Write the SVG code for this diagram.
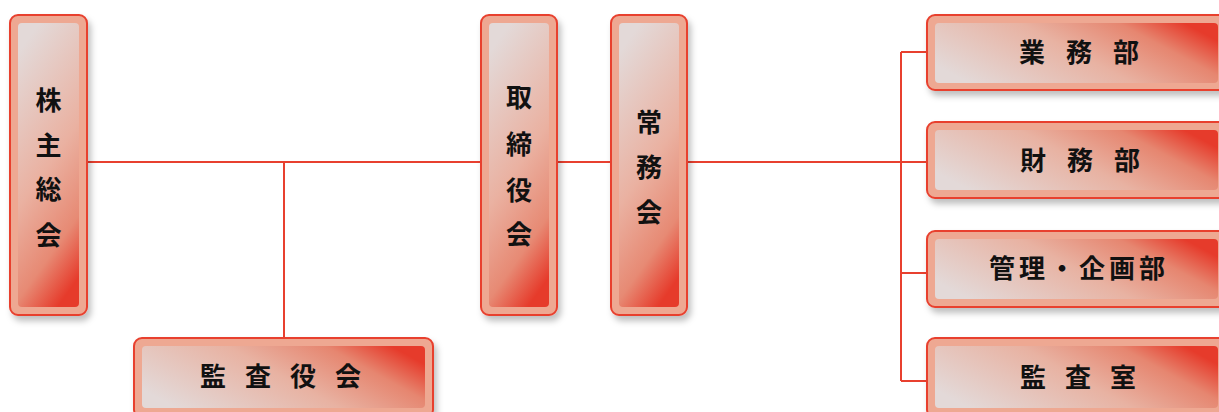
<svg xmlns="http://www.w3.org/2000/svg" width="1219" height="412" viewBox="0 0 1219 412">
<defs>
<linearGradient id="gv" x1="0.35" y1="0" x2="0.65" y2="1">
<stop offset="0" stop-color="#e3d9d8"/>
<stop offset="0.5" stop-color="#eab1a1"/>
<stop offset="0.8" stop-color="#e78a74"/>
<stop offset="1" stop-color="#e63b2b"/>
</linearGradient>
<linearGradient id="gh" x1="0" y1="0.7" x2="1" y2="0.3">
<stop offset="0" stop-color="#e3d9d8"/>
<stop offset="0.5" stop-color="#e8b2a2"/>
<stop offset="0.8" stop-color="#e68670"/>
<stop offset="1" stop-color="#e63b2b"/>
</linearGradient>
<filter id="sh" x="-20%" y="-20%" width="140%" height="140%">
<feDropShadow dx="3" dy="5" stdDeviation="3" flood-color="#000" flood-opacity="0.25"/>
</filter>
</defs>
<style>
.o{fill:#eea892;stroke:#e8402f;stroke-width:2;filter:url(#sh)}
.iv{fill:url(#gv)}
.ih{fill:url(#gh)}
.t{font-family:"Noto Sans CJK JP","Noto Sans CJK SC",sans-serif;font-size:26px;font-weight:700;fill:#111}
.vt{text-anchor:middle}
.c{stroke:#e8402f;stroke-width:2;fill:none}
</style>
<rect width="1219" height="412" fill="#fff"/>
<g id="connectors">
<path class="c" d="M87 162H481M557 162H611M687 162H927M284 162V338M901 52V381M901 52H927M901 273H927M901 381H927"/>
</g>
<g id="kabunushi">
<rect class="o" x="10" y="15" width="77" height="300" rx="8"/>
<rect class="iv" x="18" y="23" width="61" height="284" rx="4"/>
<text class="t vt"><tspan x="48.5" y="110">株</tspan><tspan x="48.5" y="155">主</tspan><tspan x="48.5" y="199">総</tspan><tspan x="48.5" y="245">会</tspan></text>
</g>
<g id="torishimariyaku">
<rect class="o" x="481" y="15" width="76" height="300" rx="8"/>
<rect class="iv" x="489" y="23" width="60" height="284" rx="4"/>
<text class="t vt"><tspan x="519" y="107">取</tspan><tspan x="519" y="154">締</tspan><tspan x="519" y="200">役</tspan><tspan x="519" y="244">会</tspan></text>
</g>
<g id="jomu">
<rect class="o" x="611" y="15" width="76" height="300" rx="8"/>
<rect class="iv" x="619" y="23" width="60" height="284" rx="4"/>
<text class="t vt"><tspan x="649" y="132">常</tspan><tspan x="649" y="177">務</tspan><tspan x="649" y="222">会</tspan></text>
</g>
<g id="kansayaku">
<rect class="o" x="134" y="338" width="299" height="80" rx="8"/>
<rect class="ih" x="142" y="346" width="283" height="62" rx="4"/>
<text class="t" x="200" y="386" letter-spacing="19">監査役会</text>
</g>
<g id="gyomu">
<rect class="o" x="927" y="15" width="305" height="75" rx="8"/>
<rect class="ih" x="935" y="23" width="283" height="60" rx="4"/>
<text class="t" x="1019" y="62" letter-spacing="21">業務部</text>
</g>
<g id="zaimu">
<rect class="o" x="927" y="122" width="305" height="76" rx="8"/>
<rect class="ih" x="935" y="130" width="283" height="60" rx="4"/>
<text class="t" x="1020" y="170" letter-spacing="21">財務部</text>
</g>
<g id="kanri">
<rect class="o" x="927" y="231" width="305" height="76" rx="8"/>
<rect class="ih" x="935" y="239" width="283" height="60" rx="4"/>
<text class="t" x="989" y="278" letter-spacing="4">管理・企画部</text>
</g>
<g id="kansashitsu">
<rect class="o" x="927" y="338" width="305" height="80" rx="8"/>
<rect class="ih" x="935" y="346" width="283" height="62" rx="4"/>
<text class="t" x="1020" y="387" letter-spacing="19">監査室</text>
</g>
</svg>
